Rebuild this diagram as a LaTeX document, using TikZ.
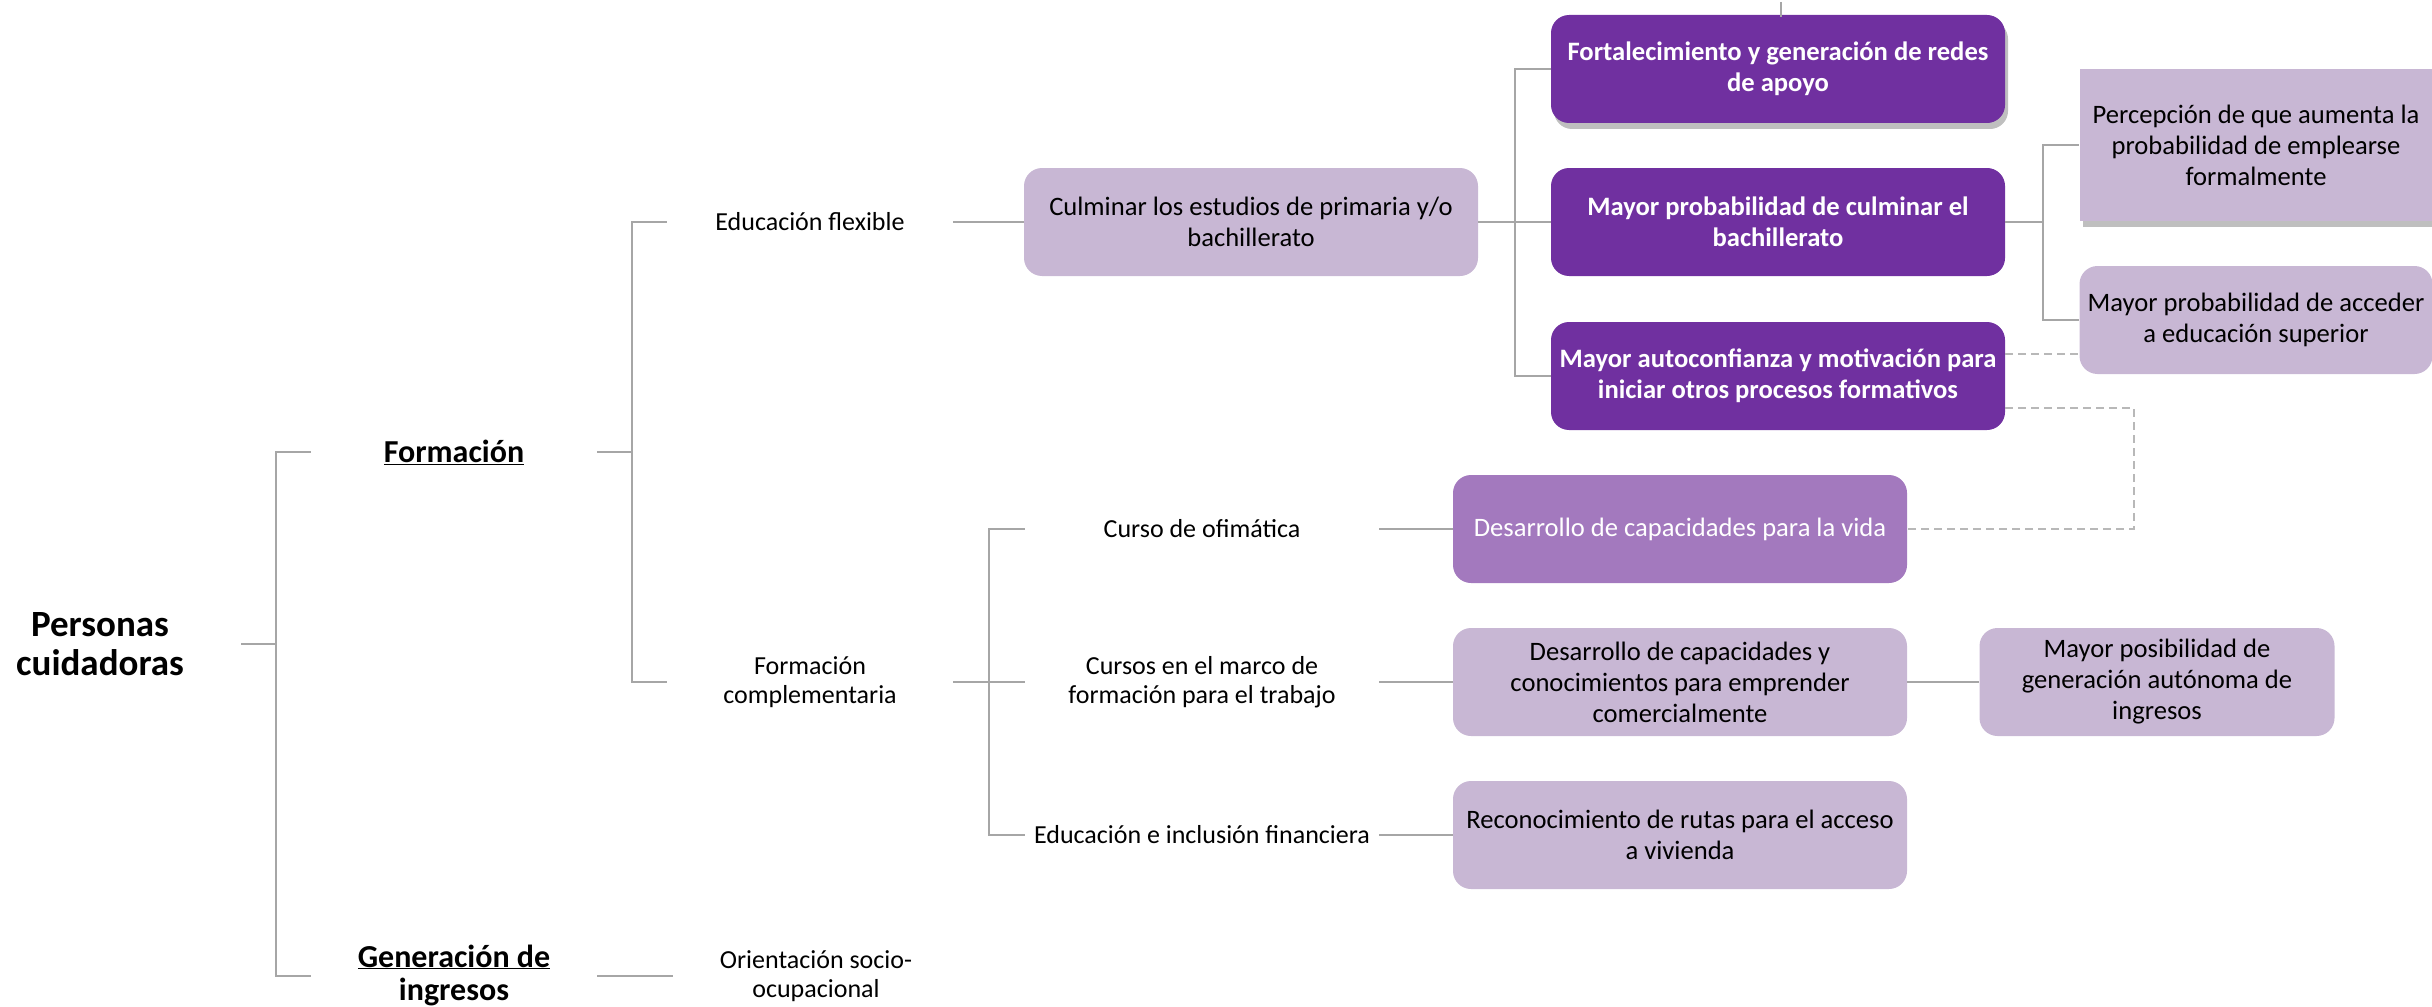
\documentclass[tikz,border=0pt]{standalone}
\usepackage{fontspec}
\setmainfont{Carlito}
\usetikzlibrary{shadows}

\definecolor{darkpurple}{HTML}{7030A0}
\definecolor{midpurple}{HTML}{A379BE}
\definecolor{lightpurple}{HTML}{C8B7D4}
\definecolor{linegray}{HTML}{A6A6A6}

\newcommand{\bodysize}{\fontsize{26}{29}\selectfont}
\newcommand{\boxsize}{\fontsize{26.6}{31}\selectfont}

\begin{document}
\begin{tikzpicture}[
    x=1pt, y=-1pt,
    edge/.style={draw=linegray, line width=1.8pt},
    dashedge/.style={draw=linegray!80, line width=1.8pt, dash pattern=on 8pt off 5pt},
    plaintext/.style={align=center, inner sep=0pt, minimum width=286pt, font=\bodysize},
    heading/.style={align=center, inner sep=0pt, minimum width=286pt, font=\fontsize{32}{33}\selectfont\bfseries},
    lightbox/.style={fill=lightpurple, rounded corners=18pt, align=center, inner sep=2pt,
        minimum width=454pt, minimum height=108pt, font=\boxsize},
    darkbox/.style={lightbox, fill=darkpurple, text=white, font=\boxsize\bfseries},
    midbox/.style={lightbox, fill=midpurple, text=white},
    shadowed/.style={drop shadow={shadow xshift=3pt, shadow yshift=-6pt, opacity=0.25, fill=black}}
]
    \useasboundingbox (0,0) rectangle (2432,1006);

    % root and first level
    \node[align=center, inner sep=0pt, minimum width=282pt, font=\fontsize{37}{39}\selectfont\bfseries]
        (pers) at (100,644) {Personas\\cuidadoras};
    \node[heading] (form) at (454,452) {\underline{Formación}};
    \node[heading] (gen) at (454,976) {\underline{Generación de}\\\underline{ingresos}};

    % second level
    \node[plaintext] (edflex) at (810,222) {Educación flexible};
    \node[plaintext] (comp) at (810,682) {Formación\\complementaria};
    \node[plaintext] (orient) at (816,976) {Orientación socio-\\ocupacional};

    \node[plaintext, minimum width=354pt] (ofim) at (1202,529) {Curso de ofimática};
    \node[plaintext, minimum width=354pt] (trab) at (1202,682) {Cursos en el marco de\\formación para el trabajo};
    \node[plaintext, minimum width=354pt] (fin) at (1202,835) {Educación e inclusión financiera};

    % results
    \node[lightbox] (culm) at (1251,222) {Culminar los estudios de primaria y/o\\bachillerato};
    \node[darkbox, shadowed] (redes) at (1778,69) {Fortalecimiento y generación de redes\\de apoyo};
    \node[darkbox] (bach) at (1778,222) {Mayor probabilidad de culminar el\\bachillerato};
    \node[darkbox] (autoc) at (1778,376) {Mayor autoconfianza y motivación para\\iniciar otros procesos formativos};
    \node[lightbox, shadowed, rounded corners=0pt, minimum width=353pt, minimum height=152pt]
        (perc) at (2256,145) {Percepción de que aumenta la\\probabilidad de emplearse\\formalmente};
    \node[lightbox, minimum width=353pt] (sup) at (2256,320) {Mayor probabilidad de acceder\\a educación superior};

    \node[midbox] (vida) at (1680,529) {Desarrollo de capacidades para la vida};
    \node[lightbox] (empr) at (1680,682) {Desarrollo de capacidades y\\conocimientos para emprender\\comercialmente};
    \node[lightbox, minimum width=355pt] (autono) at (2157,682) {Mayor posibilidad de\\generación autónoma de\\ingresos};
    \node[lightbox] (viv) at (1680,835) {Reconocimiento de rutas para el acceso\\a vivienda};

    \coordinate (stubtop) at (1781,2);
    \coordinate (stubbot) at (1781,17);

    \draw[edge] (pers.east) -- ++(35,0) |- (form.west);
    \draw[edge] (pers.east) -- ++(35,0) |- (gen.west);
    \draw[edge] (form.east) -- ++(35,0) |- (edflex.west);
    \draw[edge] (form.east) -- ++(35,0) |- (comp.west);
    \draw[edge] (gen.east) -- (orient.west);

    \draw[edge] (edflex.east) -- (culm.west);
    \draw[edge] (comp.east) -- ++(36,0) |- (ofim.west);
    \draw[edge] (comp.east) -- (trab.west);
    \draw[edge] (comp.east) -- ++(36,0) |- (fin.west);

    \draw[edge] (culm.east) -- ++(37,0) |- (redes.west);
    \draw[edge] (culm.east) -- (bach.west);
    \draw[edge] (culm.east) -- ++(37,0) |- (autoc.west);
    \draw[edge] (bach.east) -- ++(38,0) |- (perc.west);
    \draw[edge] (bach.east) -- ++(38,0) |- (sup.west);

    \draw[edge] (ofim.east) -- (vida.west);
    \draw[edge] (trab.east) -- (empr.west);
    \draw[edge] (fin.east) -- (viv.west);
    \draw[edge] (empr.east) -- (autono.west);

    \draw[dashedge] ([yshift=22pt]autoc.east) -- ([yshift=22pt]autoc.east -| sup.west);
    \draw[dashedge] ([yshift=-32pt]autoc.east) -- ++(129,0) |- (vida.east);
    \draw[edge, line width=1.2pt] (stubtop) -- (stubbot);
\end{tikzpicture}
\end{document}
